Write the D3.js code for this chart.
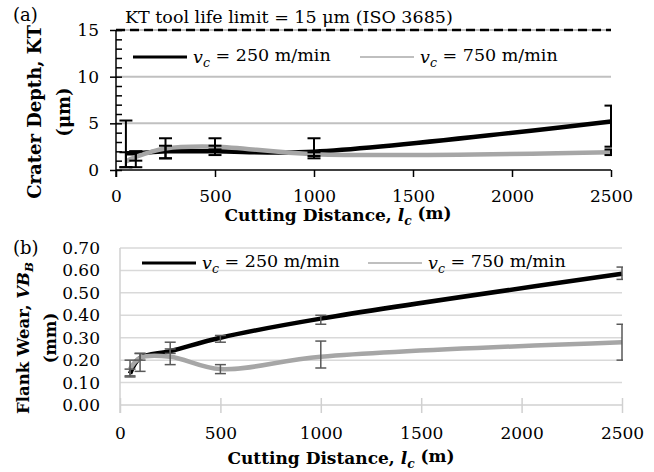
<!DOCTYPE html>
<html>
<head>
<meta charset="utf-8">
<script src="https://cdn.jsdelivr.net/npm/d3@7"></script>
<style>
  body { margin: 0; background: #fff; }
  svg { display: block; font-family: "DejaVu Serif", serif; }
</style>
</head>
<body>
<div id="chart"></div>
<script>
// cutting distance (m), shared by both panels
var distance = [50, 100, 250, 500, 1000, 2500];
var xTicks = [0, 500, 1000, 1500, 2000, 2500];

// (a) crater depth KT (um)
var crater250 = [1.8, 1.8, 2.0, 2.0, 1.95, 5.2];
var crater750 = [0.9, 1.4, 2.3, 2.5, 1.7, 1.9];
var crater250Low = [0.3, 0.3, 1.25, 1.6, 1.25, 2.5];
var crater250High = [5.3, 2.0, 2.6, 3.4, 3.4, 6.9];
var crater750Low = [0.3, 1.0, 1.25, 2.2, 1.5, 1.6];
var crater750High = [1.9, 2.0, 3.4, 2.6, 1.9, 2.2];
var craterTicks = [0, 5, 10, 15];
var ktLimit = 15;

// (b) flank wear VB_B (mm)
var flank250 = [0.14, 0.21, 0.24, 0.30, 0.385, 0.585];
var flank750 = [0.16, 0.21, 0.215, 0.16, 0.215, 0.28];
var flank250Low = [0.125, 0.20, 0.23, 0.28, 0.36, 0.56];
var flank250High = [0.16, 0.23, 0.25, 0.31, 0.40, 0.615];
var flank750Low = [0.13, 0.15, 0.18, 0.14, 0.165, 0.20];
var flank750High = [0.20, 0.23, 0.28, 0.18, 0.285, 0.36];
var flankTicks = [0, 0.1, 0.2, 0.3, 0.4, 0.5, 0.6, 0.7];

var speeds = ["250", "750"];

var width = 654, height = 472;

var svg = d3.select("#chart").append("svg")
    .attr("width", width)
    .attr("height", height);

// write a label made of [text, style] pieces, style "i" italic, "sub" italic subscript
function richText(sel, parts) {
  parts.forEach(function(p) {
    var t = sel.append("tspan").text(p[0]);
    if (p[1] == "i" || p[1] == "sub") t.attr("font-style", "italic");
    if (p[1] == "sub") t.attr("dy", "0.35em").attr("font-size", "0.72em");
    if (p[1] == "after") t.attr("dy", "-0.35em");
  });
  return sel;
}

var clipId = 0;

function drawSeries(g, x, y, values, color, lineW) {
  var line = d3.line()
      .curve(d3.curveCatmullRom.alpha(0.5))
      .x(function(d, i) { return x(distance[i]); })
      .y(function(d) { return y(d); });
  g.append("path")
      .datum(values)
      .attr("fill", "none")
      .attr("stroke", color)
      .attr("stroke-width", lineW)
      .attr("stroke-linejoin", "round")
      .attr("d", line);
}

function drawErrors(g, x, y, low, high, color, cap, w) {
  var bars = g.append("g")
      .attr("stroke", color)
      .attr("stroke-width", w)
      .selectAll("g")
      .data(distance)
      .enter().append("g");
  bars.append("line")
      .attr("x1", function(d) { return x(d); })
      .attr("x2", function(d) { return x(d); })
      .attr("y1", function(d, i) { return y(low[i]); })
      .attr("y2", function(d, i) { return y(high[i]); });
  bars.append("line")
      .attr("x1", function(d) { return x(d) - cap; })
      .attr("x2", function(d) { return x(d) + cap; })
      .attr("y1", function(d, i) { return y(high[i]); })
      .attr("y2", function(d, i) { return y(high[i]); });
  bars.append("line")
      .attr("x1", function(d) { return x(d) - cap; })
      .attr("x2", function(d) { return x(d) + cap; })
      .attr("y1", function(d, i) { return y(low[i]); })
      .attr("y2", function(d, i) { return y(low[i]); });
}

function addClip(x0, y0, x1, y1) {
  var id = "clip" + (clipId++);
  svg.append("clipPath").attr("id", id)
    .append("rect")
      .attr("x", x0).attr("y", y0)
      .attr("width", x1 - x0).attr("height", y1 - y0);
  return "url(#" + id + ")";
}

function legend(g, cx, cy, color, lineW, speed) {
  g.append("line")
      .attr("x1", cx).attr("x2", cx + 54)
      .attr("y1", cy).attr("y2", cy)
      .attr("stroke", color)
      .attr("stroke-width", lineW);
  richText(g.append("text")
      .attr("x", cx + 60)
      .attr("y", cy + 6)
      .attr("font-size", 17.5), [["v", "i"], ["c", "sub"], [" = " + speed + " m/min", "after"]]);
}

// ---------- panel (a) ----------
var xa = d3.scaleLinear().domain([0, 2500]).range([116, 611]);
var ya = d3.scaleLinear().domain([0, 15]).range([170, 30]);
var ga = svg.append("g");

ga.append("g").selectAll("line")
    .data([5, 10, 15])
    .enter().append("line")
      .attr("x1", xa(0)).attr("x2", xa(2500))
      .attr("y1", function(d) { return ya(d); })
      .attr("y2", function(d) { return ya(d); })
      .attr("stroke", "#c0c0c0")
      .attr("stroke-width", 2);

// KT limit
ga.append("line")
    .attr("x1", xa(0)).attr("x2", xa(2500))
    .attr("y1", ya(ktLimit)).attr("y2", ya(ktLimit))
    .attr("stroke", "#000")
    .attr("stroke-width", 2.5)
    .attr("stroke-dasharray", "9,5");

var axA = ga.append("g")
    .attr("transform", "translate(" + xa(0) + ",0)")
    .call(d3.axisLeft(ya).tickValues(craterTicks).tickSize(6).tickPadding(11).tickFormat(d3.format("d")));
ga.append("g")
    .attr("transform", "translate(" + xa(0) + ",0)")
    .call(d3.axisRight(ya).tickValues(d3.range(0, 16)).tickSize(6).tickFormat(""))
    .select(".domain").remove();
axA.select(".domain").attr("d", "M0," + ya(15) + "V" + (ya(0) + 7));

var axAx = ga.append("g")
    .attr("transform", "translate(0," + ya(0) + ")")
    .call(d3.axisBottom(xa).tickValues(xTicks).tickSize(7).tickPadding(13).tickFormat(d3.format("d")));
axAx.select(".domain").attr("d", "M" + xa(0) + ",0H" + xa(2500));

[axA, axAx].forEach(function(a) {
  a.selectAll("text").attr("font-size", 17).attr("font-family", "DejaVu Serif").attr("fill", "#000");
  a.selectAll("line, path").attr("stroke", "#000").attr("stroke-width", 1.5);
});
ga.selectAll("line").filter(function() { return this.parentNode.classList.contains("tick"); })
    .attr("stroke", "#000").attr("stroke-width", 1.5);

var plotA = ga.append("g").attr("clip-path", addClip(xa(0), 0, xa(2500) + 1, ya(0)));
drawSeries(plotA, xa, ya, crater250, "#000", 4.5);
drawSeries(plotA, xa, ya, crater750, "#a6a6a6", 4.5);
drawErrors(plotA, xa, ya, crater250Low, crater250High, "#000", 6.5, 2);
drawErrors(plotA, xa, ya, crater750Low, crater750High, "#000", 6.5, 2);

legend(ga, 133, 57, "#000", 3, speeds[0]);
legend(ga, 360, 57, "#bfbfbf", 2, speeds[1]);

ga.append("text")
    .attr("x", 125).attr("y", 23)
    .attr("font-size", 17.5)
    .text("KT tool life limit = 15 \u03bcm (ISO 3685)");
ga.append("text")
    .attr("x", 13).attr("y", 21)
    .attr("font-size", 18)
    .text("(a)");

var tA = ga.append("text")
    .attr("transform", "translate(41,112) rotate(-90)")
    .attr("text-anchor", "middle")
    .attr("font-size", 18)
    .attr("font-weight", "bold");
tA.append("tspan").attr("x", 0).text("Crater Depth, KT");
tA.append("tspan").attr("x", 0).attr("dy", 29).text("(\u03bcm)");

richText(ga.append("text")
    .attr("x", 338).attr("y", 221)
    .attr("text-anchor", "middle")
    .attr("font-size", 17)
    .attr("font-weight", "bold"), [["Cutting Distance, "], ["l", "i"], ["c", "sub"], [" (m)", "after"]]);

// ---------- panel (b) ----------
var xb = d3.scaleLinear().domain([0, 2500]).range([120, 622]);
var yb = d3.scaleLinear().domain([0, 0.7]).range([405, 248]);
var gb = svg.append("g");

gb.append("g").selectAll("line")
    .data(flankTicks.slice(1))
    .enter().append("line")
      .attr("x1", xb(0)).attr("x2", xb(2500))
      .attr("y1", function(d) { return yb(d); })
      .attr("y2", function(d) { return yb(d); })
      .attr("stroke", "#d9d9d9")
      .attr("stroke-width", 1.5);

var axB = gb.append("g")
    .attr("transform", "translate(" + xb(0) + ",0)")
    .call(d3.axisLeft(yb).tickValues(flankTicks).tickSize(0).tickPadding(20).tickFormat(d3.format(".2f")));
axB.select(".domain").attr("d", "M0," + yb(0.7) + "V" + (yb(0) + 8));

var axBx = gb.append("g")
    .attr("transform", "translate(0," + yb(0) + ")")
    .call(d3.axisBottom(xb).tickValues(xTicks).tickSize(8).tickPadding(14).tickFormat(d3.format("d")));
axBx.select(".domain").attr("d", "M" + xb(0) + ",0H" + xb(2500));
axBx.selectAll(".tick line").attr("y1", -7);

[axB, axBx].forEach(function(a) {
  a.selectAll("text").attr("font-size", 17).attr("font-family", "DejaVu Serif").attr("fill", "#000");
  a.selectAll("line, path").attr("stroke", "#d0d0d0").attr("stroke-width", 1.5);
});

var plotB = gb.append("g").attr("clip-path", addClip(xb(0), 240, xb(2500) + 1, yb(0)));
drawSeries(plotB, xb, yb, flank250, "#000", 4.5);
drawSeries(plotB, xb, yb, flank750, "#a6a6a6", 4.5);
drawErrors(plotB, xb, yb, flank250Low, flank250High, "#595959", 5.5, 1.5);
drawErrors(plotB, xb, yb, flank750Low, flank750High, "#595959", 5.5, 1.5);

legend(gb, 142, 263, "#000", 3, speeds[0]);
legend(gb, 368, 263, "#bfbfbf", 2, speeds[1]);

gb.append("text")
    .attr("x", 13).attr("y", 254)
    .attr("font-size", 18)
    .text("(b)");

var tB = gb.append("text")
    .attr("transform", "translate(29,338) rotate(-90)")
    .attr("text-anchor", "middle")
    .attr("font-size", 16.5)
    .attr("font-weight", "bold");
tB.append("tspan").attr("x", 0).text("Flank Wear, ");
tB.append("tspan").attr("font-style", "italic").text("VB");
tB.append("tspan").attr("font-style", "italic").attr("font-size", "0.72em").attr("dy", "0.35em").text("B");
tB.append("tspan").attr("x", 0).attr("dy", "1.4em").text("(mm)");

richText(gb.append("text")
    .attr("x", 341).attr("y", 464)
    .attr("text-anchor", "middle")
    .attr("font-size", 17)
    .attr("font-weight", "bold"), [["Cutting Distance, "], ["l", "i"], ["c", "sub"], [" (m)", "after"]]);
</script>
</body>
</html>
